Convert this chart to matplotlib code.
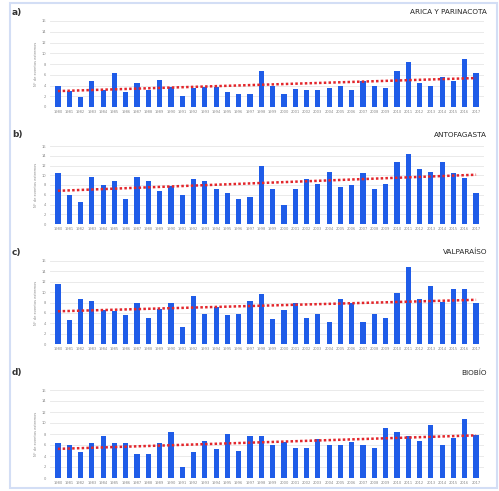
import numpy as np
import matplotlib
matplotlib.use("Agg")
import matplotlib.pyplot as plt
from matplotlib.patches import Rectangle

years = list(range(1980, 2018))

arica = [4.0, 3.0, 1.9, 4.8, 3.2, 6.4, 2.8, 4.5, 3.2, 5.1, 3.8, 2.0, 3.6, 3.8, 3.8, 2.8, 2.4, 2.4, 6.7,
         4.0, 2.4, 3.4, 3.2, 3.2, 3.5, 3.9, 3.2, 4.8, 4.0, 3.5, 6.7, 8.4, 4.5, 4.0, 5.6, 4.8, 8.9, 6.4]
antofagasta = [10.4, 5.9, 4.6, 9.6, 7.9, 8.9, 5.2, 9.6, 8.8, 6.8, 7.7, 5.9, 9.2, 8.9, 7.2, 6.3, 5.1, 5.5, 12.0,
               7.2, 3.8, 7.2, 9.2, 8.3, 10.7, 7.5, 8.0, 10.4, 7.2, 8.3, 12.8, 14.4, 11.2, 10.7, 12.8, 10.4, 9.5, 6.3]
valparaiso = [11.5, 4.7, 8.7, 8.3, 6.6, 6.4, 5.6, 7.9, 5.1, 6.7, 7.9, 3.2, 9.2, 5.8, 7.2, 5.6, 5.8, 8.3, 9.6,
              4.8, 6.6, 7.9, 5.0, 5.8, 4.2, 8.7, 7.9, 4.2, 5.8, 5.0, 9.9, 14.8, 8.7, 11.1, 8.1, 10.6, 10.6, 7.9]
biobio = [6.4, 6.0, 4.7, 6.3, 7.7, 6.3, 6.3, 4.4, 4.4, 6.3, 8.3, 2.0, 4.7, 6.7, 5.2, 8.0, 4.9, 7.6, 7.6,
          6.0, 6.6, 5.5, 5.5, 7.1, 6.0, 6.0, 6.6, 6.0, 5.5, 9.1, 8.4, 7.6, 6.7, 9.6, 6.0, 7.2, 10.8, 7.9]

panels = [("a)", "ARICA Y PARINACOTA", arica),
          ("b)", "ANTOFAGASTA", antofagasta),
          ("c)", "VALPARAÍSO", valparaiso),
          ("d)", "BIOBÍO", biobio)]

W, H = 499, 491
fig = plt.figure(figsize=(W / 100, H / 100), dpi=100)
fig.patches.append(Rectangle((10 / W, 3 / H), 487 / W, 485 / H, transform=fig.transFigure,
                             fill=False, edgecolor="#d3def5", linewidth=1.5))

# (top, bottom) of each plot area in pixels
boxes = [(21, 107), (146, 224), (261, 344), (390, 478)]
label_y = [12, 135, 252, 373]
left, right = 50, 484

x = np.arange(len(years))
for (lab, title, vals), (top, bot), ly in zip(panels, boxes, label_y):
    ax = fig.add_axes([left / W, 1 - bot / H, (right - left) / W, (bot - top) / H])
    ax.bar(x, vals, width=0.46, color="#1f5ce8", zorder=2)
    k, b = np.polyfit(x, vals, 1)
    ax.plot(x, k * x + b, color="#e3262b", linestyle=(0, (1, 0.9)), linewidth=1.8, zorder=3)
    ax.set_xlim(-0.7, len(years) - 0.3)
    ax.set_ylim(0, 16)
    ax.set_yticks(np.arange(0, 17, 2))
    ax.set_xticks(x)
    ax.set_xticklabels([str(y) for y in years], fontsize=2.6, color="#888888")
    ax.tick_params(axis="y", labelsize=2.6, labelcolor="#888888", length=0, pad=3)
    ax.tick_params(axis="x", length=0, pad=2)
    ax.grid(axis="y", color="#e6e6e6", linewidth=0.6, zorder=0)
    for s in ax.spines.values():
        s.set_visible(False)
    ax.set_ylabel("N° de eventos extremos", fontsize=2.6, color="#888888", labelpad=2)
    fig.text(12 / W, 1 - ly / H, lab, fontsize=6.5, fontweight="bold", color="#333333",
             ha="left", va="center")
    fig.text(487 / W, 1 - ly / H, title, fontsize=5.2, color="#222222", ha="right", va="center")

fig.savefig("out.png", dpi=100)
